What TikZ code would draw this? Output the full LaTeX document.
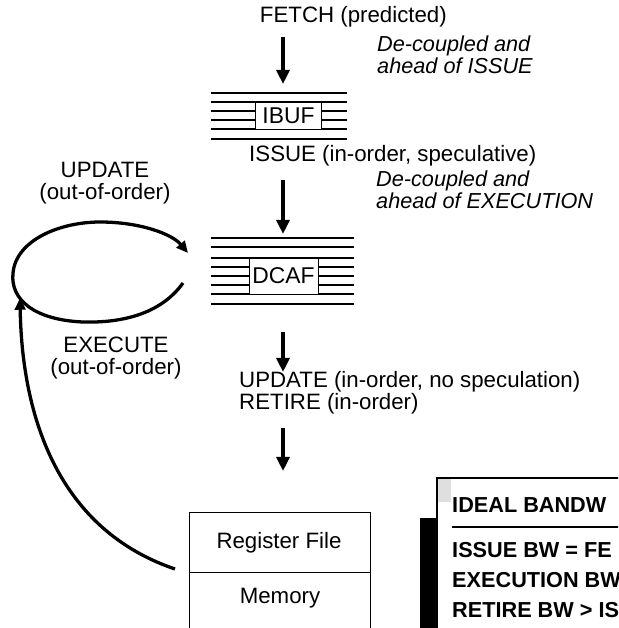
\documentclass[tikz,border=0pt]{standalone}
\usepackage{fontspec}
\setmainfont{Liberation Sans}
\usetikzlibrary{arrows.meta}

\tikzset{
    lbl/.style={font=\fontsize{19}{19}\selectfont, inner sep=0pt},
    note/.style={font=\fontsize{18.5}{14.5}\selectfont\itshape, align=left, inner sep=0pt},
    bw/.style={font=\fontsize{18.5}{20}\selectfont\bfseries, inner sep=0pt},
    flow/.style={line width=2.8pt, -{Triangle[width=11pt,length=12pt]}},
    loopline/.style={line width=2.8pt, -{Triangle[width=9pt,length=10pt]}},
    bufline/.style={line width=1.3pt},
    bufbox/.style={draw, fill=white, line width=0.8pt, inner sep=0pt,
        font=\fontsize{19.5}{20}\selectfont},
}

\begin{document}
\begin{tikzpicture}[x=0.03cm, y=-0.03cm]

    \useasboundingbox (0,0) rectangle (618,628);
    \clip (0,0) rectangle (618,628);

    % Pipeline text
    \node[lbl, anchor=east] (fetch) at (447,17) {FETCH (predicted)};
    \node[note, anchor=north west] (dc1) at (377,36) {De-coupled and\\ahead of ISSUE};
    \node[lbl, anchor=west] (issue) at (249,156) {ISSUE (in-order, speculative)};
    \node[note, anchor=north west] (dc2) at (376,171) {De-coupled and\\ahead of EXECUTION};
    \node[lbl, anchor=west] (update) at (239,382) {UPDATE (in-order, no speculation)};
    \node[lbl, anchor=west] (retire) at (239,404) {RETIRE (in-order)};

    % IBUF stack
    \foreach \y in {93,102,111,120,129,139}
        \draw[bufline] (211,\y) -- (347,\y);
    \node[bufbox, minimum width=2.0cm, minimum height=0.8cm] (ibuf) at (288.5,116) {IBUF};

    % DCAF stack
    \foreach \y in {238,247,258,267,276,285,294,304}
        \draw[bufline] (211,\y) -- (354,\y);
    \node[bufbox, minimum width=2.07cm, minimum height=1.08cm] (dcaf) at (283.5,276) {DCAF};

    \coordinate (f0) at (283,37);
    \coordinate (f1) at (283,84);
    \coordinate (i0) at (283,180);
    \coordinate (i1) at (283,234);
    \coordinate (d0) at (283,332);
    \coordinate (d1) at (283,372);
    \coordinate (r0) at (283,428);
    \coordinate (r1) at (283,471);

    \draw[flow] (f0) -- (f1);
    \draw[flow] (i0) -- (i1);
    \draw[flow] (d0) -- (d1);
    \draw[flow] (r0) -- (r1);

    % Register file and memory
    \draw[line width=0.8pt] (189,640) |- (370,512) -- (370,640);
    \draw[line width=0.8pt] (189,572) -- (370,572);
    \node[lbl] (reg) at (279,543) {Register File};
    \node[lbl] (mem) at (280,598) {Memory};

    % out-of-order loop
    \node[lbl, align=center] (oupd) at (105,183) {UPDATE\\(out-of-order)};
    \node[lbl, align=center] (oexe) at (116,358) {EXECUTE\\(out-of-order)};

    \coordinate (lp0) at (183,283);
    \coordinate (lp1) at (188,253);
    \draw[loopline] (lp0) .. controls (160,315) and (120,323) .. (83,322)
        .. controls (35,320) and (10,300) .. (13,273)
        .. controls (16,240) and (60,222) .. (100,222)
        .. controls (140,222) and (172,234) .. (lp1);

    \coordinate (rf0) at (175,569);
    \coordinate (rf1) at (20,298);
    \draw[loopline] (rf0) .. controls (60,530) and (22,420) .. (rf1);

    % Bandwidth panel
    \fill (420,518) rectangle (437,640);
    \draw[line width=1pt, fill=white] (437,478) rectangle (640,640);
    \fill[gray!25] (438,479) rectangle (451,502);
    \node[bw, anchor=west] (ideal) at (452,505) {IDEAL BANDW};
    \draw[line width=1.6pt] (452,527) -- (640,527);
    \node[bw, anchor=west] (bwi) at (452,550) {ISSUE BW = FE};
    \node[bw, anchor=west] (bwe) at (452,580) {EXECUTION BW};
    \node[bw, anchor=west] (bwr) at (452,610) {RETIRE BW > IS};

\end{tikzpicture}
\end{document}
